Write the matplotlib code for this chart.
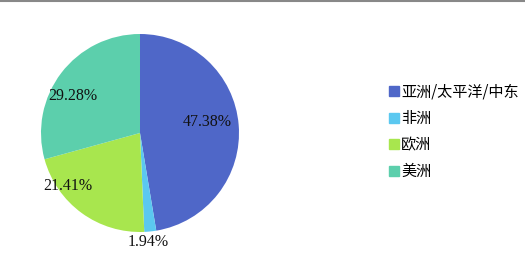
import matplotlib
matplotlib.use("Agg")
import matplotlib.pyplot as plt
from matplotlib.lines import Line2D

categories = ["亚洲/太平洋/中东", "非洲", "欧洲", "美洲"]
values = [47.38, 1.94, 21.41, 29.28]
colors = ["#4f67c8", "#5bc8f0", "#a8e64e", "#5ccfac"]
label_pos = [(0.68, 0.11), (0.08, -1.10), (-0.73, -0.54), (-0.68, 0.37)]

fig = plt.figure(figsize=(5.25, 2.65), dpi=100)
W, H = 525, 265
cx, cy, r = 140, 133, 99
ax = fig.add_axes([(cx - r) / W, (H - cy - r) / H, 2 * r / W, 2 * r / H])
wedges, texts, autotexts = ax.pie(values, colors=colors, startangle=90, counterclock=False,
                                  autopct="%.2f%%", radius=1,
                                  textprops=dict(family="Liberation Serif", fontsize=11.5, color="#111111"))
for t, p in zip(autotexts, label_pos):
    t.set_position(p)
    t.set_clip_on(False)
ax.set_xlim(-1, 1)
ax.set_ylim(-1, 1)
ax.set_aspect("equal")
ax.axis("off")

handles = [Line2D([], [], marker="s", linestyle="none", markersize=6.5, markerfacecolor=c, markeredgecolor=c)
           for c in colors]
fig.legend(handles, categories, loc="center left", bbox_to_anchor=(390 / W, 1 - 132 / H),
           frameon=False, prop=dict(family=["Noto Sans CJK SC", "DejaVu Sans"], size=10.9),
           handlelength=0.55, handletextpad=0.2, labelspacing=0.63, borderpad=0, borderaxespad=0)

fig.add_artist(Line2D([0, 1], [1 - 0.5 / H, 1 - 0.5 / H], color="#888888", linewidth=1.5, transform=fig.transFigure))
fig.savefig("out.png", dpi=100)
